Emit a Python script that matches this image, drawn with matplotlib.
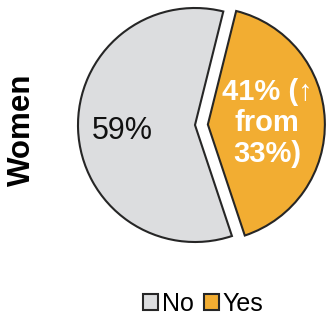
import matplotlib
matplotlib.use("Agg")
import matplotlib.pyplot as plt

plt.rcParams['font.family'] = ['Liberation Sans', 'DejaVu Sans']

categories = ['No', 'Yes']
shares = [59, 41]
pct_labels = ['59%', '41% (\u2191\nfrom\n33%)']
colors = ['#DCDDDF', '#F2AD32']
row_label = 'Women'

fig = plt.figure(figsize=(3.27, 3.17), dpi=100)
ax = fig.add_axes([0, 0, 1, 1])

labels_iter = iter(pct_labels)
wedges, texts, autotexts = ax.pie(
    shares, colors=colors, explode=[0, 0.11], startangle=76,
    autopct=lambda p: next(labels_iter),
    wedgeprops=dict(edgecolor='#262626', linewidth=1.5),
)

# put the percentage labels where the reference has them
autotexts[0].set_position((-0.624, -0.05))
autotexts[0].set_fontsize(22)
autotexts[0].set_color('#111111')
autotexts[1].set_position((0.615, 0.017))
autotexts[1].set_fontsize(21)
autotexts[1].set_fontweight('bold')
autotexts[1].set_color('white')
autotexts[1].set_linespacing(1.12)

# 1 data unit = pie radius = 117 px
ax.set_aspect('auto')
ax.set_xlim(-195 / 117, 132 / 117)
ax.set_ylim(-192 / 117, 125 / 117)
ax.axis('off')

fig.text(22 / 327, 1 - 130 / 317, row_label, rotation=90, ha='center',
         va='center', fontsize=22.5, fontweight='bold')

fig.legend(wedges, categories, loc='center', bbox_to_anchor=(203 / 327, 1 - 304 / 317),
           ncol=2, frameon=False, fontsize=18, handlelength=0.6, handleheight=0.6,
           handletextpad=0.15, columnspacing=0.4, borderaxespad=0)

fig.savefig('out.png', dpi=100)
